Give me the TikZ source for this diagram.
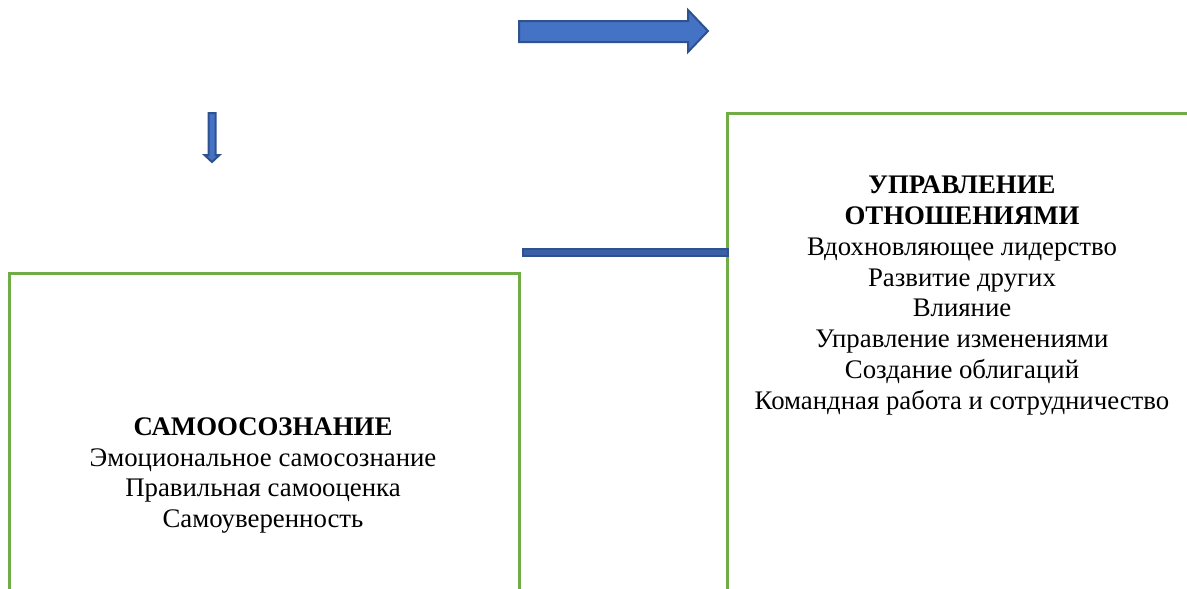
\documentclass[tikz,border=0pt]{standalone}
\usepackage{fontspec}
\setmainfont{Liberation Serif}
\usetikzlibrary{calc,positioning}
\definecolor{boxgreen}{HTML}{70AD47}
\definecolor{arrowblue}{HTML}{4472C4}
\definecolor{arrowedge}{HTML}{2F528F}
\tikzset{
	frame/.style={draw=boxgreen, line width=3pt},
	blockarrow/.style={fill=arrowblue, draw=arrowedge, line width=2pt, line join=miter},
	boxtext/.style={align=center, font=\fontsize{26.8}{30.8}\selectfont, inner sep=0pt}
}
\begin{document}
\begin{tikzpicture}[x=1pt,y=-1pt]
	\useasboundingbox (0,0) rectangle (1187,589);
	\clip (0,0) rectangle (1187,589);
	
	% Boxes (open at the bottom)
	\coordinate (sa-bl) at (9.5,600);
	\coordinate (sa-tl) at (9.5,273);
	\coordinate (sa-tr) at (519,273);
	\coordinate (sa-br) at (519,600);
	\draw[frame] (sa-bl) -- (sa-tl) -- (sa-tr) -- (sa-br);
	
	\coordinate (ro-bl) at (727.5,600);
	\coordinate (ro-tl) at (727.5,113);
	\coordinate (ro-tr) at (1200,113);
	\draw[frame] (ro-bl) -- (ro-tl) -- (ro-tr);
	
	\node[boxtext] (samo) at (263,475.5) {\textbf{САМООСОЗНАНИЕ}\\Эмоциональное самосознание\\Правильная самооценка\\Самоуверенность};
	
	\node[boxtext] (upr) at (962,295.5) {\textbf{УПРАВЛЕНИЕ}\\\textbf{ОТНОШЕНИЯМИ}\\Вдохновляющее лидерство\\Развитие других\\Влияние\\Управление изменениями\\Создание облигаций\\Командная работа и сотрудничество};
	
	% Arrows
	\draw[blockarrow] (519,21) -- (688,21) -- (688,10) -- (708,31) -- (688,52) -- (688,42) -- (519,42) -- cycle;
	\draw[blockarrow] (208.5,113) -- (215.5,113) -- (215.5,155) -- (219.5,155) -- (212,162) -- (204.5,155) -- (208.5,155) -- cycle;
	
	\coordinate (bar-w) at (523,249);
	\coordinate (bar-e) at ($(ro-tl |- bar-w) + (0,7)$);
	\draw[blockarrow, fill=arrowblue!85!black] (bar-w) rectangle (bar-e);
\end{tikzpicture}
\end{document}
